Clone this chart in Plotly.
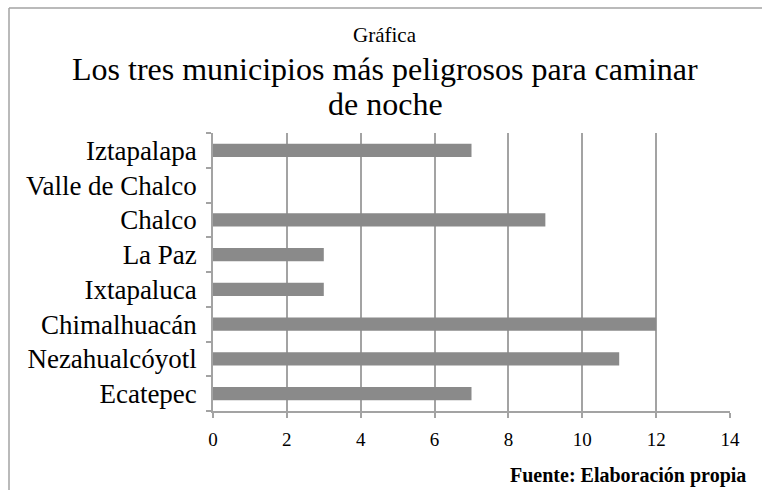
import plotly.graph_objects as go

# Data (bottom to top order as drawn)
municipios = ["Ecatepec", "Nezahualcóyotl", "Chimalhuacán", "Ixtapaluca",
              "La Paz", "Chalco", "Valle de Chalco", "Iztapalapa"]
valores = [7, 11, 12, 3, 3, 9, 0, 7]
x_ticks = [0, 2, 4, 6, 8, 10, 12, 14]

W, H = 762, 490
L, R, T, B = 213, 32, 133, 79
PW, PH = W - L - R, H - T - B

def px_x(px):
    return (px - L) / PW

def px_y(py):
    return (H - B - py) / PH

GRID = "#a3a3a3"
BAR = "#8a8a8a"
FONT = "Liberation Serif, Times New Roman, serif"

fig = go.Figure(go.Bar(
    x=valores, y=municipios, orientation="h",
    marker=dict(color=BAR, line=dict(width=0)),
))

fig.update_layout(
    width=W, height=H,
    margin=dict(l=L, r=R, t=T, b=B, pad=0),
    paper_bgcolor="white", plot_bgcolor="white",
    showlegend=False,
    bargap=0.62,
    font=dict(family=FONT, color="black"),
    xaxis=dict(
        range=[0, 14], tickvals=x_ticks, ticktext=[str(v) for v in x_ticks],
        showgrid=True, gridcolor=GRID, gridwidth=1.5,
        showline=True, linecolor=GRID, linewidth=1.5,
        ticks="outside", ticklen=5, tickcolor=GRID, tickwidth=1.5,
        zeroline=False,
        ticklabelstandoff=5,
        tickfont=dict(family=FONT, size=19, color="black"),
        fixedrange=True,
    ),
    yaxis=dict(
        type="category", categoryorder="array", categoryarray=municipios,
        range=[-0.5, len(municipios) - 0.5],
        showgrid=False, showline=True, linecolor=GRID, linewidth=1.5,
        ticks="outside", ticklen=5, tickcolor=GRID, tickwidth=1.5,
        tickson="boundaries",
        ticklabelstandoff=9,
        tickfont=dict(family=FONT, size=27, color="black"),
        fixedrange=True,
    ),
    shapes=[
        dict(type="line", xref="paper", yref="paper",
             x0=px_x(9), x1=px_x(762), y0=px_y(8), y1=px_y(8),
             line=dict(color=GRID, width=1.5)),
        dict(type="line", xref="paper", yref="paper",
             x0=px_x(9), x1=px_x(9), y0=px_y(8), y1=px_y(490),
             line=dict(color=GRID, width=1.5)),
    ],
    annotations=[
        dict(text="Gráfica", xref="paper", yref="paper",
             x=px_x(385), y=px_y(35), xanchor="center", yanchor="middle",
             showarrow=False, font=dict(family=FONT, size=21, color="black")),
        dict(text="Los tres municipios más peligrosos para caminar", xref="paper", yref="paper",
             x=px_x(385), y=px_y(69), xanchor="center", yanchor="middle",
             showarrow=False, font=dict(family=FONT, size=32, color="black")),
        dict(text="de noche", xref="paper", yref="paper",
             x=px_x(385), y=px_y(104), xanchor="center", yanchor="middle",
             showarrow=False, font=dict(family=FONT, size=32, color="black")),
        dict(text="<b>Fuente: Elaboración propia</b>", xref="paper", yref="paper",
             x=px_x(748), y=px_y(476), xanchor="right", yanchor="middle",
             showarrow=False, font=dict(family=FONT, size=20, color="black")),
    ],
)

fig.write_html(
    "out.html",
    config={"displayModeBar": False},
    post_script="document.body.style.margin='0';document.body.style.overflow='hidden';",
)
